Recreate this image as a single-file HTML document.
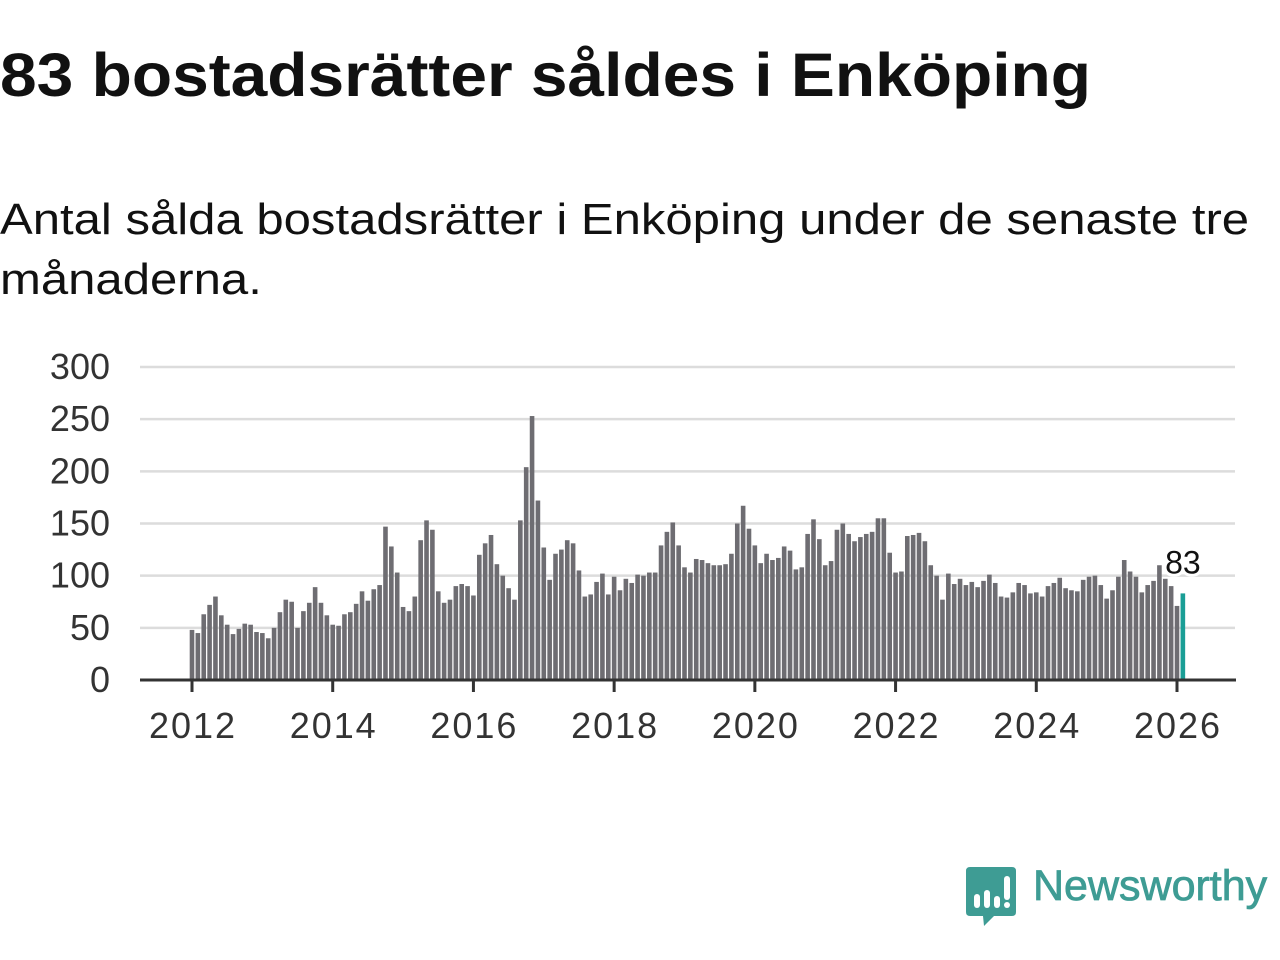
<!DOCTYPE html>
<html><head><meta charset="utf-8"><style>
body{margin:0;width:1280px;height:960px;background:#fff;overflow:hidden;font-family:"Liberation Sans","DejaVu Sans",sans-serif;}
#title{position:absolute;left:0;top:40px;font-size:61px;font-weight:bold;color:#111;margin:0;white-space:nowrap;transform:scaleX(1.08);transform-origin:0 0;}
#sub{position:absolute;left:0;top:190px;font-size:44px;color:#111;line-height:60px;width:1130px;transform:scaleX(1.115);transform-origin:0 0;}
svg{position:absolute;left:0;top:0;}
</style></head><body>
<h1 id="title">83 bostadsrätter såldes i Enköping</h1>
<div id="sub">Antal sålda bostadsrätter i Enköping under de senaste tre månaderna.</div>
<svg id="chart" width="1280" height="960"></svg>
<script>
const yTicks=[0,50,100,150,200,250,300];
const xTickYears=[2012,2014,2016,2018,2020,2022,2024,2026];
const startYear=2012;
const values=[
48,45,63,72,80,62,53,44,49,54,53,46,
45,40,50,65,77,75,50,66,74,89,74,62,
53,52,63,65,73,85,76,87,91,147,128,103,
70,66,80,134,153,144,85,74,77,90,92,90,
81,120,131,139,111,100,88,77,153,204,253,172,
127,96,121,125,134,131,105,80,82,94,102,82,
99,86,97,93,101,100,103,103,129,142,151,129,
108,103,116,115,112,110,110,111,121,150,167,145,
129,112,121,115,117,128,124,106,108,140,154,135,
110,114,144,150,140,133,137,140,142,155,155,122,
103,104,138,139,141,133,110,100,77,102,92,97,
91,94,89,95,101,93,80,79,84,93,91,83,
84,80,90,93,98,88,86,85,96,99,100,91,
78,86,99,115,104,99,84,91,95,110,97,90,
71,83];
const svg=document.getElementById('chart');
const NS='http://www.w3.org/2000/svg';
const y=v=>680-v*(313/300);
const x=m=>192+m*(985/168);
function mk(t,a){const e=document.createElementNS(NS,t);for(const k in a)e.setAttribute(k,a[k]);svg.appendChild(e);return e;}
yTicks.forEach(t=>{
  if(t>0){const g=mk('line',{x1:140,x2:1235,y1:y(t),y2:y(t),stroke:'#dcdcdc','stroke-width':2.5});
  
  }
  const l=mk('text',{x:110,y:y(t)+12,'text-anchor':'end','font-size':36,fill:'#333','font-family':'Liberation Sans, sans-serif'});
  l.textContent=t;
  
  
});
values.forEach((v,i)=>{
  const last=i===values.length-1;
  const r=mk('rect',{x:x(i)-2.3,y:y(v),width:4.6,height:680-y(v),fill:last?'#1a9e96':'#6e6d72'});
  
  
});
const ax=mk('line',{x1:140,x2:1236,y1:680,y2:680,stroke:'#333','stroke-width':3});


xTickYears.forEach(yr=>{
  const px=x((yr-startYear)*12);
  const tk=mk('line',{x1:px,x2:px,y1:680,y2:692,stroke:'#333','stroke-width':3});
  
  
  const l=mk('text',{x:px,y:738,'text-anchor':'middle','font-size':36,fill:'#333',textLength:86,'font-family':'Liberation Sans, sans-serif'});
  l.textContent=yr;
  
  
});
const li=values.length-1;
const ann=mk('text',{x:x(li),y:y(values[li])-20,'text-anchor':'middle','font-size':32,fill:'#111',stroke:'#fff','stroke-width':6,'paint-order':'stroke','font-family':'Liberation Sans, sans-serif'});
ann.textContent=values[li];


</script>
<svg width="60" height="70" style="left:964px;top:864px">
<path d="M6 3 H48 Q52 3 52 7 V48 Q52 52 48 52 H30 L20 62 L19 52 H6 Q2 52 2 48 V7 Q2 3 6 3 Z" fill="#3e9c94"/>
<rect x="10" y="30" width="6" height="14" rx="3" fill="#fff"/>
<rect x="20" y="26" width="6" height="18" rx="3" fill="#fff"/>
<rect x="30" y="32" width="6" height="12" rx="3" fill="#fff"/>
<rect x="40" y="12" width="6" height="24" rx="3" fill="#fff"/>
<circle cx="43" cy="41" r="3" fill="#fff"/>
</svg>
<div style="position:absolute;left:1033px;top:862px;font-size:43px;color:#3e9c94;font-family:'Liberation Sans',sans-serif;-webkit-text-stroke:0.8px #3e9c94;">Newsworthy</div>
</body></html>
